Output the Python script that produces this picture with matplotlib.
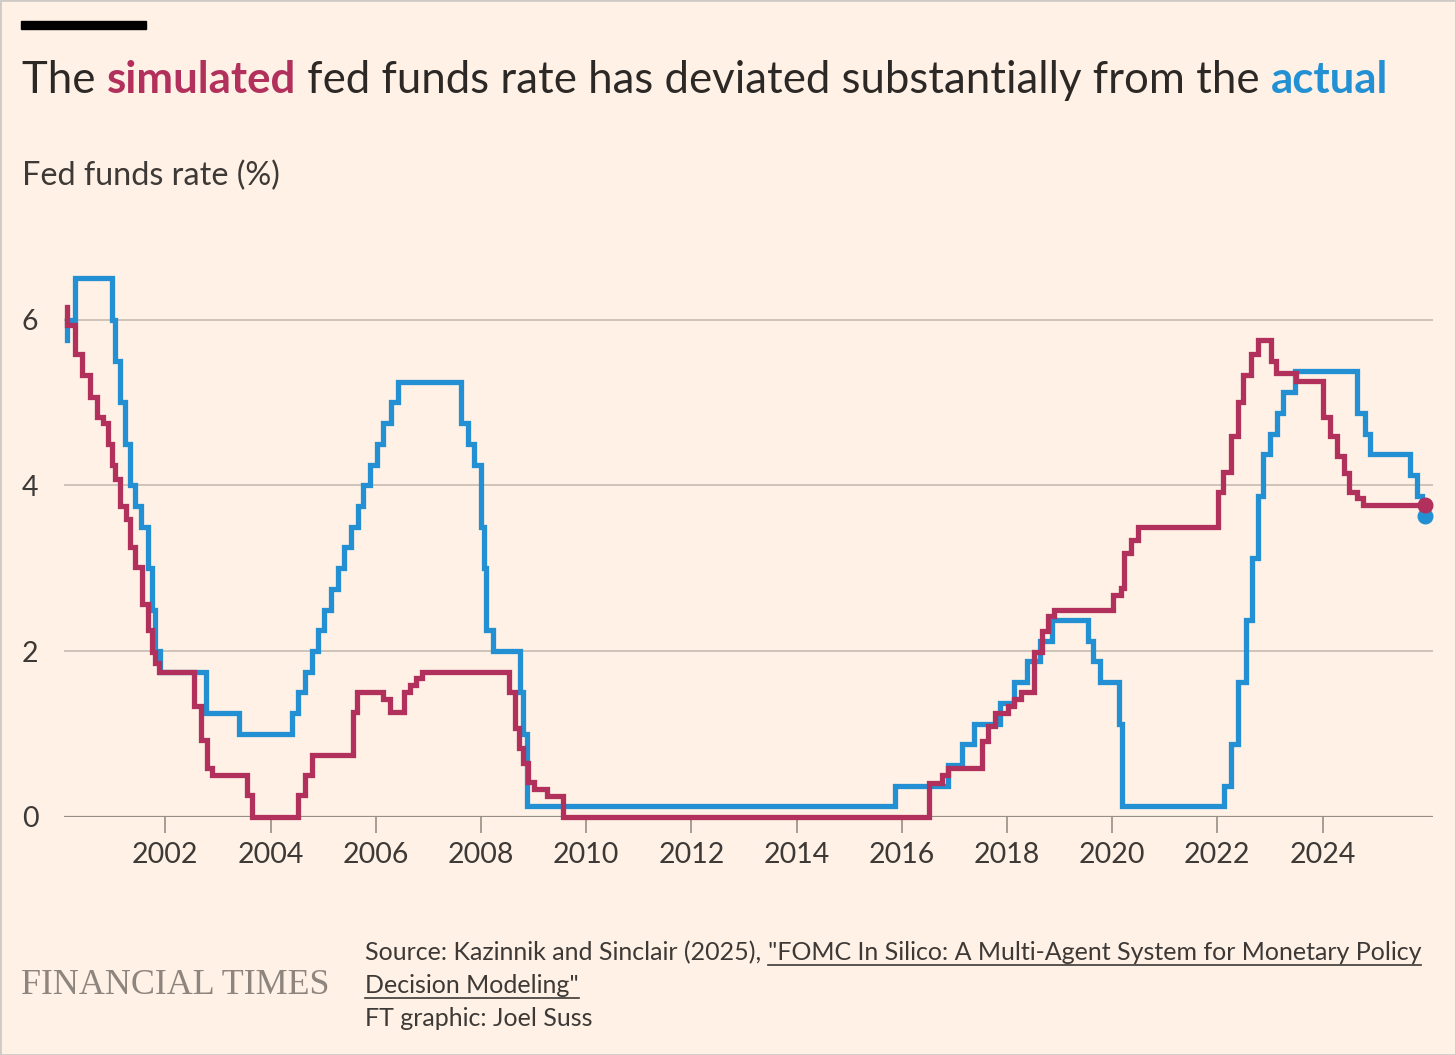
import numpy as np
import matplotlib.pyplot as plt
from matplotlib.patches import Rectangle

# ---------------------------------------------------------------
# Fed funds rate: actual vs simulated (FOMC in silico), step chart
# dates are decimal years where the rate changes
# ---------------------------------------------------------------

actual_dates = [2000.135, 2000.14, 2000.283, 2000.98, 2001.044, 2001.139, 2001.234, 2001.329,
                2001.424, 2001.538, 2001.677, 2001.741, 2001.804, 2001.90,
                2002.77, 2003.40, 2004.415, 2004.53, 2004.656, 2004.78, 2004.897, 2005.02,
                2005.15, 2005.28, 2005.40, 2005.53, 2005.66, 2005.765, 2005.89, 2006.02,
                2006.145, 2006.285, 2006.418,
                2007.63, 2007.76, 2007.87, 2008.0, 2008.06, 2008.10, 2008.235, 2008.74,
                2008.80, 2008.88,
                2015.87, 2016.886, 2017.14, 2017.38, 2017.87, 2018.14, 2018.376, 2018.63,
                2018.85, 2019.535, 2019.64, 2019.77, 2020.13, 2020.18,
                2022.12, 2022.26, 2022.40, 2022.54, 2022.65, 2022.77, 2022.875, 2023.0,
                2023.13, 2023.255, 2023.48, 2024.65, 2024.81, 2024.90, 2025.66, 2025.79,
                2025.885]
actual_rate = [5.75, 6.0, 6.5, 6.0, 5.5, 5.0, 4.5, 4.0,
               3.75, 3.5, 3.0, 2.5, 2.0, 1.75,
               1.25, 1.0, 1.25, 1.5, 1.75, 2.0, 2.25, 2.5,
               2.75, 3.0, 3.25, 3.5, 3.75, 4.0, 4.25, 4.5,
               4.75, 5.0, 5.25,
               4.75, 4.5, 4.25, 3.5, 3.0, 2.25, 2.0, 1.5,
               1.0, 0.125,
               0.375, 0.625, 0.875, 1.125, 1.375, 1.625, 1.875, 2.125,
               2.375, 2.125, 1.875, 1.625, 1.125, 0.125,
               0.375, 0.875, 1.625, 2.375, 3.125, 3.875, 4.375, 4.625,
               4.875, 5.125, 5.375, 4.875, 4.625, 4.375, 4.125, 3.875,
               3.625]

sim_dates = [2000.135, 2000.14, 2000.283, 2000.423, 2000.568, 2000.695, 2000.822, 2000.917,
             2000.98, 2001.044, 2001.139, 2001.247, 2001.329, 2001.424, 2001.563, 2001.677,
             2001.741, 2001.804, 2001.88,
             2002.546, 2002.672, 2002.786, 2002.881, 2003.547, 2003.642, 2004.529, 2004.656,
             2004.783, 2005.575, 2005.638, 2006.145, 2006.272, 2006.538, 2006.652, 2006.766,
             2006.874,
             2008.53, 2008.65, 2008.72, 2008.80, 2008.89, 2009.0, 2009.25, 2009.56,
             2016.51, 2016.76, 2016.886, 2017.52, 2017.635, 2017.774, 2018.015, 2018.14,
             2018.27, 2018.52, 2018.66, 2018.79, 2018.90,
             2020.01, 2020.16, 2020.23, 2020.36, 2020.50,
             2022.01, 2022.115, 2022.255, 2022.39, 2022.495, 2022.64, 2022.77, 2023.02,
             2023.115, 2023.49, 2024.01, 2024.15, 2024.27, 2024.41, 2024.51, 2024.65,
             2024.76]
sim_rate = [6.15, 5.93, 5.59, 5.33, 5.07, 4.82, 4.75, 4.50,
            4.25, 4.08, 3.75, 3.59, 3.26, 3.01, 2.57, 2.25,
            1.99, 1.85, 1.75,
            1.34, 0.93, 0.59, 0.50, 0.26, 0.0, 0.26, 0.50,
            0.75, 1.27, 1.51, 1.42, 1.26, 1.51, 1.59, 1.67,
            1.75,
            1.50, 1.07, 0.83, 0.65, 0.42, 0.34, 0.25, 0.0,
            0.41, 0.50, 0.59, 0.91, 1.09, 1.25, 1.34, 1.42,
            1.51, 1.99, 2.24, 2.42, 2.50,
            2.68, 2.76, 3.18, 3.34, 3.50,
            3.92, 4.16, 4.59, 5.01, 5.33, 5.59, 5.75, 5.50,
            5.35, 5.26, 4.83, 4.59, 4.35, 4.15, 3.92, 3.85,
            3.76]

end_date = 2025.94
year_ticks = list(range(2002, 2025, 2))
rate_ticks = [0, 2, 4, 6]

title_parts = ["The ", "simulated", " fed funds rate has deviated substantially from the ", "actual"]
subtitle = "Fed funds rate (%)"
source_lead = "Source: Kazinnik and Sinclair (2025), "
source_link1 = "\"FOMC In Silico: A Multi-Agent System for Monetary Policy"
source_link2 = "Decision Modeling\""
credit = "FT graphic: Joel Suss"

# colours
BG = "#FFF1E5"
RED = "#B1305C"
BLUE = "#2290D2"
TXT = "#2B2826"
SOFT = "#3D3936"
GRID = "#C9C0B6"
BASE = "#968E87"
FONT = "Lato"

W, H = 1456, 1055
fig = plt.figure(figsize=(W / 100, H / 100), dpi=100, facecolor=BG)
renderer = fig.canvas.get_renderer()


def fx(px):
    return px / W


def fy(py):
    return 1 - py / H


def width_of(s, **kw):
    t = fig.text(0, 0, s + "l", **kw)
    w = t.get_window_extent(renderer).width
    t.remove()
    t = fig.text(0, 0, "l", **kw)
    w -= t.get_window_extent(renderer).width
    t.remove()
    return w


# frame + black bar
fig.patches.append(Rectangle((0, 0), 1, 1, transform=fig.transFigure, fill=False,
                             edgecolor="#CFCAC5", linewidth=2))
fig.patches.append(Rectangle((fx(21), fy(29)), 125 / W, 8 / H, transform=fig.transFigure,
                             color="black"))

# ---- title, fitted to the width of the original ----
colours = [TXT, RED, TXT, BLUE]
weights = ["normal", "bold", "normal", "bold"]
tw = sum(width_of(p, fontsize=30, family=FONT, weight=w) for p, w in zip(title_parts, weights))
tsize = 30 * 1363 / tw
x = 22
for part, c, wgt in zip(title_parts, colours, weights):
    kw = dict(fontsize=tsize, family=FONT, color=c, weight=wgt)
    fig.text(fx(x), fy(93), part, va="baseline", ha="left", **kw)
    x += width_of(part, **kw)

sub_size = 20 * 258 / width_of(subtitle, fontsize=20, family=FONT)
fig.text(fx(22), fy(185), subtitle, fontsize=sub_size, family=FONT, color=SOFT,
         va="baseline", ha="left")

# ---- chart ----
ax = fig.add_axes([fx(64), fy(816.8), (1433 - 64) / W, 7 * 82.87 / H])
ax.set_facecolor(BG)
ax.set_xlim(2000.074, 2026.10)
ax.set_ylim(0, 7)
for s in ax.spines.values():
    s.set_visible(False)

for r in rate_ticks[1:]:
    ax.axhline(r, color=GRID, linewidth=1.3, zorder=1)
ax.axhline(0, color=BASE, linewidth=1.6, zorder=1)

ax.step(actual_dates + [end_date], actual_rate + [actual_rate[-1]], where="post",
        color=BLUE, linewidth=3.8, solid_joinstyle="miter", zorder=3, clip_on=False)
ax.step(sim_dates + [end_date], sim_rate + [sim_rate[-1]], where="post",
        color=RED, linewidth=3.8, solid_joinstyle="miter", zorder=4, clip_on=False)
ax.plot([end_date], [actual_rate[-1]], "o", color=BLUE, markersize=10.5, zorder=5,
        clip_on=False)
ax.plot([end_date], [sim_rate[-1]], "o", color=RED, markersize=10.5, zorder=6,
        clip_on=False)

ax.set_xticks(year_ticks)
ax.set_xticklabels([str(y) for y in year_ticks], fontsize=20.5, family=FONT, color=SOFT)
ax.set_yticks(rate_ticks)
ax.set_yticklabels([str(r) for r in rate_ticks], fontsize=20.5, family=FONT, color=SOFT)
ax.tick_params(axis="x", length=11.5, width=1.2, color=BASE, pad=6.5)
ax.tick_params(axis="y", length=0, pad=18.5)

# ---- footer ----
logo_size = 30 * 309 / width_of("FINANCIAL TIMES", fontsize=30, family="Liberation Serif")
fig.text(fx(21), fy(994), "FINANCIAL TIMES", fontsize=logo_size, family="Liberation Serif",
         color="#8E857E", va="baseline", ha="left")

src_size = 16 * 1062 / width_of(source_lead + source_link1, fontsize=16, family=FONT)
skw = dict(fontsize=src_size, family=FONT, color=SOFT)
x0 = 365
fig.text(fx(x0), fy(960), source_lead, va="baseline", ha="left", **skw)
lx = x0 + width_of(source_lead, **skw)
fig.text(fx(lx), fy(960), source_link1, va="baseline", ha="left", **skw)
l1 = width_of(source_link1, **skw)
fig.add_artist(plt.Line2D([fx(lx), fx(lx + l1)], [fy(965), fy(965)], color=SOFT,
                          linewidth=1.2, transform=fig.transFigure))
fig.text(fx(x0), fy(993), source_link2, va="baseline", ha="left", **skw)
l2 = width_of(source_link2, **skw)
fig.add_artist(plt.Line2D([fx(x0), fx(x0 + l2)], [fy(998), fy(998)], color=SOFT,
                          linewidth=1.2, transform=fig.transFigure))
fig.text(fx(x0), fy(1026), credit, va="baseline", ha="left", **skw)

fig.savefig("out.png", dpi=100, facecolor=BG)
